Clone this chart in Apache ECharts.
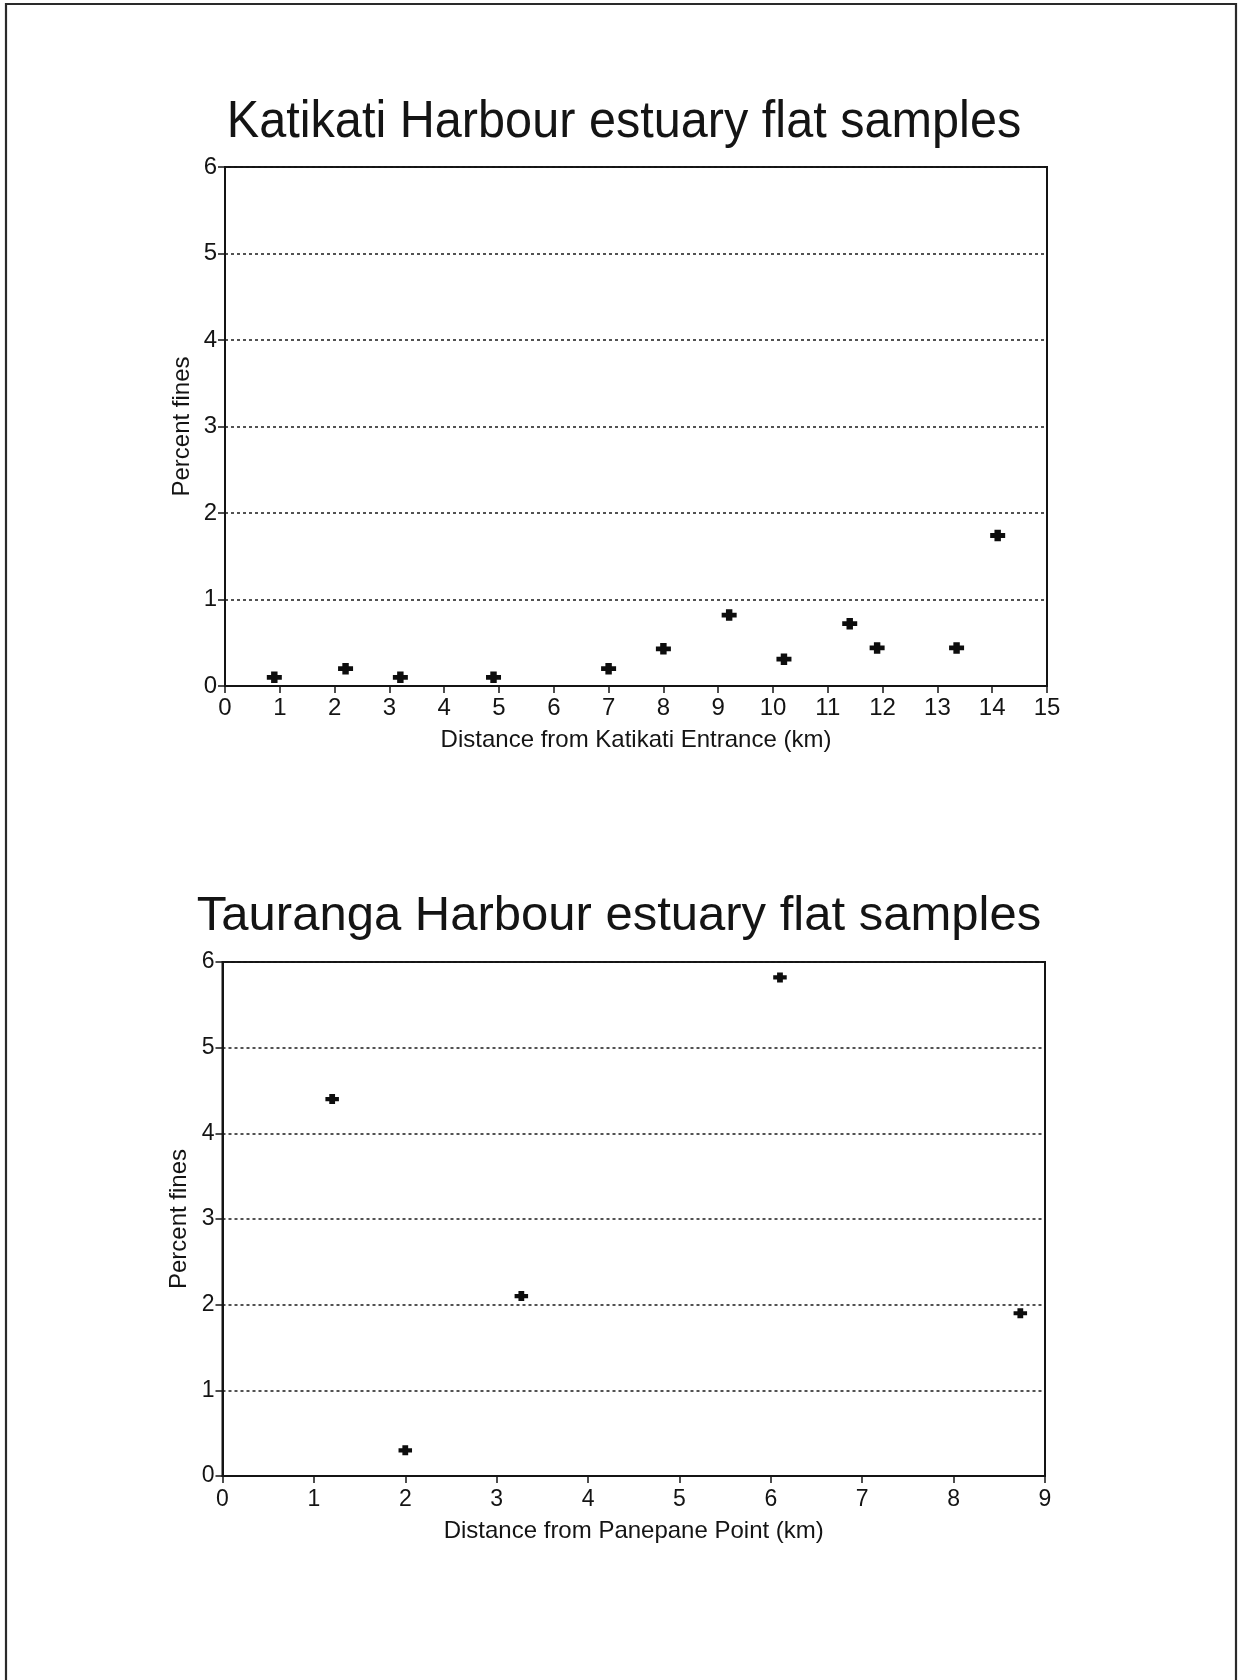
<!DOCTYPE html>
<html>
<head>
<meta charset="utf-8">
<title>Estuary flat samples – percent fines</title>
<script src="https://cdn.jsdelivr.net/npm/echarts@6/dist/echarts.min.js"></script>
<style>
  html, body { margin: 0; padding: 0; background: #fff; }
  #chart { width: 1243px; height: 1680px; }
</style>
</head>
<body>
<div id="chart"></div>
<script>
// Katikati Harbour: distance from the entrance (km) and percent fines
const katikatiDistance = [0.9, 2.2, 3.2, 4.9, 7.0, 8.0, 9.2, 10.2, 11.4, 11.9, 13.35, 14.1];
const katikatiFines    = [0.1, 0.2, 0.1, 0.1, 0.2, 0.43, 0.82, 0.31, 0.72, 0.44, 0.44, 1.74];

// Tauranga Harbour: distance from Panepane Point (km) and percent fines
const taurangaDistance = [1.2, 2.0, 3.27, 6.1, 8.73];
const taurangaFines    = [4.4, 0.3, 2.1, 5.82, 1.9];

// Axis ranges (ticks every 1 unit)
const katikatiXRange = [0, 15];
const taurangaXRange = [0, 9];
const finesRange = [0, 6];

const titles = ['Katikati Harbour estuary flat samples', 'Tauranga Harbour estuary flat samples'];
const xNames = ['Distance from Katikati Entrance (km)', 'Distance from Panepane Point (km)'];
const yName = 'Percent fines';

const ink = '#141414';
const font = "'Liberation Sans', Arial, Helvetica, sans-serif";

// Small bold plus used as the sample marker
const plusMark = 'path://M4,0H10V3.5H14V8.5H10V12H4V8.5H0V3.5H4Z';

function zip(xs, ys) { return xs.map((x, i) => [x, ys[i]]); }

function xAxisFor(gridIndex, range, name, fontSize, labelMargin, nameGap) {
  return {
    gridIndex, type: 'value', min: range[0], max: range[1], interval: 1,
    name, nameLocation: 'middle', nameGap,
    nameTextStyle: { fontSize: 24, color: ink, fontFamily: font },
    axisLine: { show: true, onZero: false, lineStyle: { color: ink, width: 2 } },
    axisTick: { show: true, inside: false, length: 7, lineStyle: { color: ink, width: 1.5 } },
    axisLabel: { margin: labelMargin, fontSize, color: ink, fontFamily: font },
    splitLine: { show: false }
  };
}

function yAxisFor(gridIndex, fontSize) {
  return {
    gridIndex, type: 'value', min: finesRange[0], max: finesRange[1], interval: 1,
    name: yName, nameLocation: 'middle', nameGap: 31, nameRotate: 90,
    nameMoveOverlap: false,
    nameTextStyle: { fontSize: 24, color: ink, fontFamily: font },
    axisLine: { show: true, onZero: false, lineStyle: { color: ink, width: 2 } },
    axisTick: { show: true, inside: false, length: 7, lineStyle: { color: ink, width: 1.5 } },
    axisLabel: { margin: 8, fontSize, color: ink, fontFamily: font },
    splitLine: { show: true, lineStyle: { color: '#1a1a1a', width: 1.5, type: [3, 3] } }
  };
}

const chart = echarts.init(document.getElementById('chart'), null, { renderer: 'canvas' });

chart.setOption({
  backgroundColor: '#ffffff',
  animation: false,
  graphic: [
    // page frame (open at the bottom)
    {
      type: 'polyline', z: 100, silent: true,
      shape: { points: [[6, 1690], [6, 4], [1236, 4], [1236, 1690]] },
      style: { stroke: '#2a2a2a', lineWidth: 2.2, fill: null }
    },
    {
      type: 'text', x: 624, y: 123, scaleX: 0.935, silent: true,
      style: { text: titles[0], font: '52px ' + font, fill: ink, align: 'center', verticalAlign: 'middle' }
    },
    {
      type: 'text', x: 619, y: 916, silent: true,
      style: { text: titles[1], font: '49px ' + font, fill: ink, align: 'center', verticalAlign: 'middle' }
    }
  ],
  grid: [
    { left: 225, top: 167, width: 822, height: 519, show: true, borderColor: ink, borderWidth: 2, backgroundColor: 'transparent' },
    { left: 222.5, top: 962, width: 822.5, height: 514, show: true, borderColor: ink, borderWidth: 2, backgroundColor: 'transparent' }
  ],
  xAxis: [
    xAxisFor(0, katikatiXRange, xNames[0], 24, 10, 42),
    xAxisFor(1, taurangaXRange, xNames[1], 23, 12, 43)
  ],
  yAxis: [
    yAxisFor(0, 24),
    yAxisFor(1, 23)
  ],
  series: [
    {
      type: 'scatter', xAxisIndex: 0, yAxisIndex: 0, z: 5,
      data: zip(katikatiDistance, katikatiFines),
      symbol: plusMark, symbolSize: [15, 11.5],
      itemStyle: { color: '#0d0d0d', opacity: 1 }
    },
    {
      type: 'scatter', xAxisIndex: 1, yAxisIndex: 1, z: 5,
      data: zip(taurangaDistance, taurangaFines),
      symbol: plusMark, symbolSize: [13.5, 10],
      itemStyle: { color: '#0d0d0d', opacity: 1 }
    }
  ]
});
</script>
</body>
</html>
